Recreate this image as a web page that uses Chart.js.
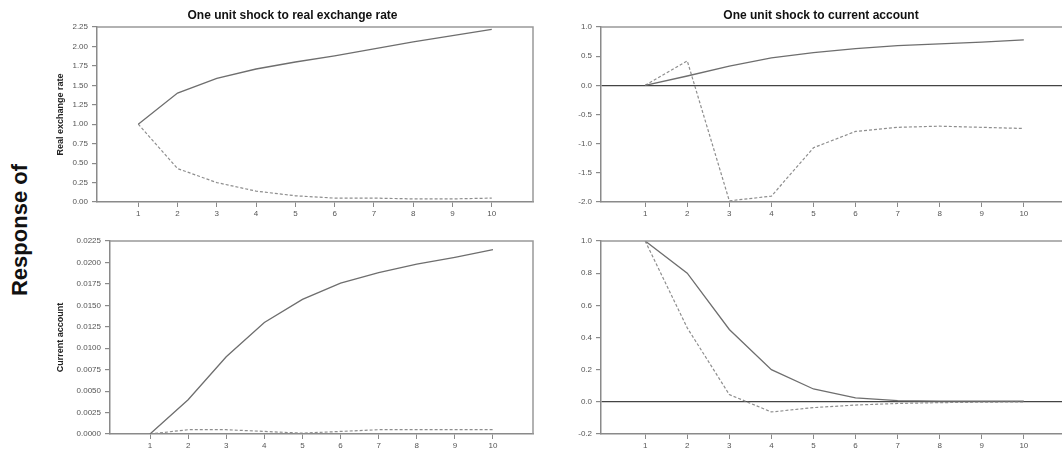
<!DOCTYPE html>
<html>
<head>
<meta charset="utf-8">
<script src="https://cdn.jsdelivr.net/npm/chart.js@4.4.1/dist/chart.umd.min.js"></script>
<style>
    html, body { margin: 0; padding: 0; background: #fff; overflow: hidden; width: 1062px; height: 452px; }
    canvas { position: absolute; }
    #response-of {
        position: absolute; left: 20px; top: 230px;
        transform: translate(-50%, -50%) rotate(-90deg);
        font: bold 22px "Liberation Sans", Arial, sans-serif; color: #111; white-space: nowrap;
    }
</style>
</head>
<body>
<div id="response-of">Response of</div>
<canvas id="chartTL" width="482" height="220" style="left:52px;top:0px"></canvas>
<canvas id="chartTR" width="495" height="220" style="left:574px;top:0px"></canvas>
<canvas id="chartBL" width="482" height="232" style="left:52px;top:220px"></canvas>
<canvas id="chartBR" width="495" height="232" style="left:574px;top:220px"></canvas>
<script>
// Periods after the shock
const periods = [1, 2, 3, 4, 5, 6, 7, 8, 9, 10];

// Response of real exchange rate
const rerToRerSolid  = [1.00, 1.40, 1.59, 1.71, 1.80, 1.88, 1.97, 2.06, 2.14, 2.22];
const rerToRerDashed = [1.00, 0.43, 0.25, 0.14, 0.08, 0.05, 0.05, 0.04, 0.04, 0.05];
const rerToCaSolid   = [0.00, 0.16, 0.33, 0.47, 0.56, 0.63, 0.68, 0.71, 0.74, 0.78];
const rerToCaDashed  = [0.00, 0.42, -1.98, -1.90, -1.07, -0.79, -0.72, -0.70, -0.72, -0.74];

// Response of current account
const caToRerSolid  = [0.0000, 0.0040, 0.0090, 0.0130, 0.0157, 0.0176, 0.0188, 0.0198, 0.0206, 0.0215];
const caToRerDashed = [0.0000, 0.0005, 0.0005, 0.0003, 0.0001, 0.0003, 0.0005, 0.0005, 0.0005, 0.0005];
const caToCaSolid   = [1.00, 0.80, 0.45, 0.20, 0.08, 0.025, 0.008, 0.004, 0.004, 0.004];
const caToCaDashed  = [1.00, 0.46, 0.045, -0.063, -0.036, -0.02, -0.01, -0.005, -0.002, 0.0];

// Tick labels
const xTicks = [1, 2, 3, 4, 5, 6, 7, 8, 9, 10];
const rerRerTicks = [0, 0.25, 0.5, 0.75, 1, 1.25, 1.5, 1.75, 2, 2.25];
const rerCaTicks = [-2, -1.5, -1, -0.5, 0, 0.5, 1];
const caRerTicks = [0, 0.0025, 0.005, 0.0075, 0.01, 0.0125, 0.015, 0.0175, 0.02, 0.0225];
const caCaTicks = [-0.2, 0, 0.2, 0.4, 0.6, 0.8, 1];

const FONT = '"Liberation Sans", Arial, sans-serif';
const TICK_COLOR = '#555';
const AXIS_COLOR = '#8a8a8a';

// top and right edges of the plot box
const framePlugin = {
    id: 'frame',
    afterDraw(chart) {
        const { ctx, chartArea: a } = chart;
        ctx.save();
        ctx.strokeStyle = '#999';
        ctx.lineWidth = 1.5;
        ctx.beginPath();
        ctx.moveTo(a.left, a.top);
        ctx.lineTo(a.right, a.top);
        ctx.lineTo(a.right, a.bottom);
        ctx.stroke();
        ctx.restore();
    }
};

function toPoints(ys) {
    return periods.map((p, i) => ({ x: p, y: ys[i] }));
}

function makeChart(id, opts) {
    const ctx = document.getElementById(id).getContext('2d');
    return new Chart(ctx, {
        type: 'line',
        data: {
            datasets: [{
                data: toPoints(opts.solid),
                borderColor: '#6e6e6e',
                borderWidth: 1.3,
                pointRadius: 0,
                tension: 0
            }, {
                data: toPoints(opts.dashed),
                borderColor: '#8e8e8e',
                borderWidth: 1.2,
                borderDash: [3, 2],
                pointRadius: 0,
                tension: 0
            }]
        },
        options: {
            responsive: false,
            animation: false,
            layout: { padding: { top: opts.padTop, right: 1, left: 0, bottom: 0 } },
            plugins: {
                legend: { display: false },
                tooltip: { enabled: false },
                title: {
                    display: !!opts.title,
                    text: opts.title,
                    color: '#111',
                    font: { family: FONT, size: 12, weight: 'bold' },
                    padding: { top: 8, bottom: 4.6 }
                }
            },
            scales: {
                x: {
                    type: 'linear',
                    min: -0.05,
                    max: 11.05,
                    afterBuildTicks: (s) => { s.ticks = xTicks.map(v => ({ value: v })); },
                    afterFit: (s) => { s.height = 18; },
                    grid: { drawOnChartArea: false, tickLength: 5, tickColor: AXIS_COLOR },
                    border: { color: AXIS_COLOR, width: 1.5 },
                    ticks: { color: TICK_COLOR, padding: 2, maxRotation: 0, font: { family: FONT, size: 8 } }
                },
                y: {
                    min: opts.yTicks[0],
                    max: opts.yTicks[opts.yTicks.length - 1],
                    afterBuildTicks: (s) => { s.ticks = opts.yTicks.map(v => ({ value: v })); },
                    afterFit: (s) => { s.width = opts.yWidth; },
                    grid: {
                        drawOnChartArea: !!opts.zeroLine,
                        color: (c) => (c.tick && c.tick.value === 0 ? '#444' : 'rgba(0,0,0,0)'),
                        lineWidth: 1.2,
                        tickLength: 5,
                        tickColor: AXIS_COLOR
                    },
                    border: { color: AXIS_COLOR, width: 1.5 },
                    title: {
                        display: !!opts.yTitle,
                        text: opts.yTitle,
                        color: '#222',
                        padding: { top: 3, bottom: 0 },
                        font: { family: FONT, size: 9, weight: 'bold' }
                    },
                    ticks: {
                        color: TICK_COLOR,
                        padding: 4,
                        font: { family: FONT, size: 8 },
                        callback: (v) => Number(v).toFixed(opts.decimals)
                    }
                }
            }
        },
        plugins: [framePlugin]
    });
}

makeChart('chartTL', {
    title: 'One unit shock to real exchange rate',
    yTitle: 'Real exchange rate',
    solid: rerToRerSolid, dashed: rerToRerDashed,
    yTicks: rerRerTicks, decimals: 2, yWidth: 45, padTop: 0
});

makeChart('chartTR', {
    title: 'One unit shock to current account',
    solid: rerToCaSolid, dashed: rerToCaDashed,
    yTicks: rerCaTicks, decimals: 1, yWidth: 27, padTop: 0, zeroLine: true
});

makeChart('chartBL', {
    yTitle: 'Current account',
    solid: caToRerSolid, dashed: caToRerDashed,
    yTicks: caRerTicks, decimals: 4, yWidth: 58, padTop: 21
});

makeChart('chartBR', {
    solid: caToCaSolid, dashed: caToCaDashed,
    yTicks: caCaTicks, decimals: 1, yWidth: 27, padTop: 21, zeroLine: true
});
</script>
</body>
</html>
